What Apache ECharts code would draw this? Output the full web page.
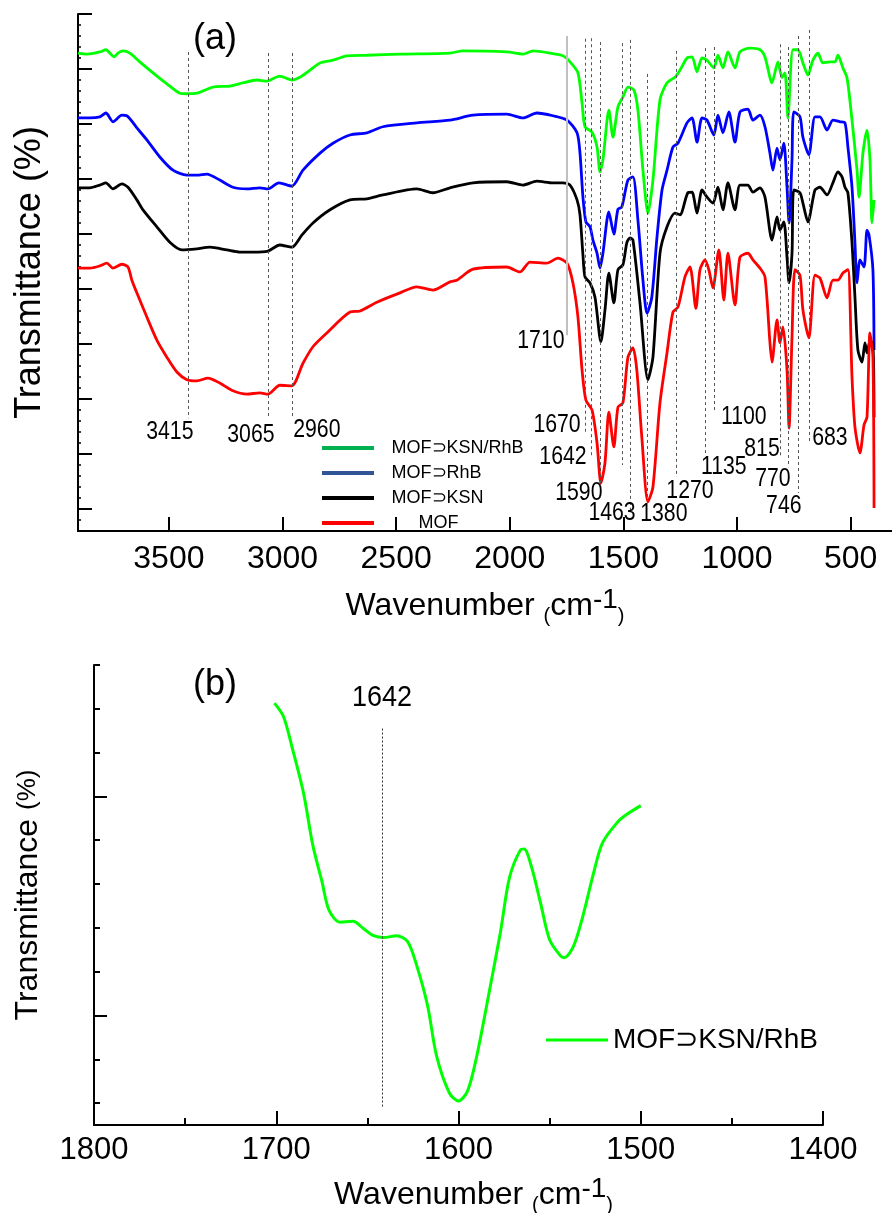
<!DOCTYPE html>
<html><head><meta charset="utf-8">
<script src="https://cdn.jsdelivr.net/npm/echarts@6/dist/echarts.min.js"></script>
<style>html,body{margin:0;padding:0;background:#fff}#c{width:892px;height:1213px}</style>
</head><body><div id="c"></div>
<script>
// ---------------- DATA ----------------
const seriesNames = ['MOF\u2283KSN/RhB', 'MOF\u2283RhB', 'MOF\u2283KSN', 'MOF'];
// Panel (a): [wavenumber cm-1, transmittance (offset, a.u.)]
const greenA = [[3900,86.9],[3861,86.7],[3804,87.1],[3777,87.5],[3760,86.9],[3742,86.2],[3724,86.9],[3702,87.3],[3672,86.9],[3628,85.3],[3570,83.3],[3509,81.3],[3452,79.6],[3421,79.5],[3377,79.6],[3306,80.7],[3232,80.9],[3174,81.5],[3113,82.0],[3069,81.8],[3012,82.7],[2959,82.0],[2924,82.5],[2879,83.8],[2835,85.1],[2778,85.6],[2717,86.4],[2629,86.5],[2483,86.7],[2263,86.9],[2206,87.3],[2013,87.1],[1942,86.7],[1898,87.3],[1823,86.9],[1766,86.4],[1735,85.3],[1700,83.3],[1682,77.8],[1669,73.5],[1638,72.5],[1616,69.8],[1603,65.3],[1590,67.5],[1572,74.7],[1564,76.5],[1546,71.6],[1524,77.1],[1502,78.9],[1480,80.7],[1454,80.2],[1436,76.5],[1414,65.6],[1392,57.8],[1370,63.8],[1339,78.4],[1308,81.5],[1273,82.5],[1251,83.8],[1220,86.0],[1198,86.2],[1176,83.5],[1154,86.0],[1132,85.6],[1102,84.2],[1084,86.5],[1062,84.2],[1040,87.1],[1009,84.2],[987,87.1],[943,87.8],[899,87.5],[877,86.2],[846,81.5],[820,85.3],[802,82.5],[789,83.3],[776,75.1],[754,87.5],[732,87.5],[710,85.1],[688,82.9],[666,85.6],[644,86.9],[622,85.1],[591,85.3],[569,85.3],[556,86.5],[534,84.2],[516,82.4],[494,74.7],[472,65.6],[463,60.7],[446,68.7],[428,72.9],[415,67.5],[406,56.0],[397,60.2]];
const blueA = [[3900,75.1],[3848,75.1],[3804,75.3],[3777,76.0],[3746,74.4],[3707,75.6],[3685,75.5],[3641,73.3],[3597,71.1],[3540,68.0],[3482,65.6],[3421,64.7],[3377,64.7],[3333,64.9],[3276,63.8],[3218,62.5],[3157,62.2],[3100,62.4],[3064,62.2],[3016,63.3],[2959,62.7],[2910,65.6],[2835,68.7],[2778,70.5],[2703,72.0],[2629,72.4],[2558,73.5],[2409,74.2],[2263,74.7],[2162,75.6],[2013,75.8],[1942,75.1],[1881,76.0],[1810,75.5],[1748,74.7],[1704,72.4],[1691,68.7],[1678,60.7],[1665,56.2],[1647,55.3],[1634,52.9],[1616,50.5],[1603,47.8],[1590,50.5],[1564,58.0],[1542,54.0],[1524,58.5],[1507,58.9],[1480,63.8],[1458,64.4],[1436,56.5],[1414,45.6],[1396,39.6],[1375,42.5],[1352,53.5],[1330,62.0],[1308,65.6],[1282,69.8],[1260,70.5],[1220,74.2],[1198,75.1],[1176,70.7],[1154,75.1],[1132,74.7],[1102,72.0],[1084,75.6],[1062,72.4],[1036,76.2],[1009,70.7],[987,76.2],[952,76.7],[930,74.7],[899,75.6],[877,73.5],[855,68.7],[842,65.6],[824,69.6],[811,67.5],[794,70.5],[780,62.5],[771,56.0],[758,67.5],[750,76.2],[723,75.3],[710,71.6],[684,68.4],[657,75.3],[635,75.3],[604,72.9],[578,74.7],[547,74.4],[525,74.2],[512,69.8],[494,62.5],[481,52.4],[472,45.1],[459,49.3],[441,48.0],[428,54.7],[419,53.8],[402,47.5],[397,32.9]];
const blackA = [[3900,62.4],[3848,62.4],[3804,62.9],[3777,63.3],[3746,62.2],[3707,63.1],[3680,62.5],[3641,60.2],[3614,58.4],[3553,55.3],[3496,52.5],[3443,51.1],[3377,51.3],[3320,51.6],[3245,51.1],[3188,50.7],[3130,50.7],[3064,50.9],[3012,52.0],[2959,51.6],[2915,53.8],[2866,56.0],[2791,58.4],[2703,60.2],[2629,60.4],[2558,61.1],[2409,62.2],[2338,61.5],[2263,62.4],[2162,63.3],[2013,63.5],[1942,62.9],[1881,63.6],[1810,63.3],[1766,63.3],[1735,62.9],[1704,60.2],[1691,57.5],[1678,50.2],[1669,46.2],[1647,45.1],[1625,42.5],[1599,34.4],[1581,40.2],[1564,46.9],[1542,41.5],[1524,47.5],[1502,48.4],[1485,52.4],[1471,53.3],[1458,52.9],[1427,41.5],[1392,27.5],[1370,31.6],[1339,50.5],[1308,55.3],[1273,57.8],[1251,57.5],[1216,61.5],[1198,61.6],[1176,57.8],[1154,62.0],[1132,60.7],[1106,59.6],[1084,62.5],[1062,58.4],[1040,63.3],[1009,58.4],[987,62.9],[952,62.9],[930,61.6],[899,62.4],[877,60.7],[846,52.9],[824,57.1],[811,54.7],[794,56.2],[780,49.8],[771,45.1],[758,50.5],[750,62.0],[723,61.5],[710,59.6],[688,56.2],[657,62.0],[635,62.5],[604,61.1],[578,63.3],[556,65.3],[538,64.4],[525,62.5],[512,61.5],[494,52.4],[481,42.5],[468,32.9],[450,30.7],[437,34.2],[428,32.4],[415,34.4],[402,34.2],[397,20.7]];
const redA = [[3900,47.8],[3848,47.8],[3804,48.2],[3773,48.7],[3746,47.8],[3707,48.5],[3680,48.0],[3663,45.6],[3628,42.0],[3597,38.9],[3553,34.7],[3509,31.6],[3465,28.9],[3421,27.5],[3377,27.3],[3328,27.8],[3276,26.9],[3218,25.5],[3157,24.9],[3100,25.1],[3064,24.9],[3012,26.5],[2959,26.4],[2910,30.5],[2866,33.5],[2805,36.0],[2703,39.8],[2659,40.0],[2585,41.6],[2483,43.3],[2409,44.4],[2338,43.8],[2263,45.3],[2233,45.6],[2162,47.6],[2013,48.0],[1955,47.1],[1911,48.9],[1837,48.7],[1788,49.6],[1748,48.7],[1722,45.1],[1700,38.9],[1682,29.3],[1665,23.8],[1638,22.0],[1616,16.0],[1599,8.7],[1581,12.4],[1564,21.6],[1542,15.3],[1524,22.5],[1502,23.3],[1480,31.6],[1458,33.3],[1441,29.3],[1419,17.1],[1392,5.3],[1370,8.0],[1339,23.3],[1308,32.4],[1282,39.8],[1260,40.7],[1229,46.2],[1207,48.0],[1181,40.5],[1163,47.5],[1141,49.3],[1124,47.5],[1106,44.2],[1080,51.1],[1058,42.0],[1040,50.5],[1009,41.1],[987,49.8],[952,50.5],[930,49.3],[899,47.8],[877,46.2],[855,34.2],[846,30.7],[824,38.4],[811,34.2],[798,37.1],[780,29.3],[771,18.7],[758,35.3],[745,47.5],[723,46.5],[710,40.2],[684,35.1],[657,46.5],[635,46.0],[604,42.4],[578,45.6],[556,45.6],[534,46.9],[512,47.5],[494,28.0],[481,18.9],[459,14.2],[441,19.3],[428,20.7],[415,36.0],[402,31.6],[397,4.2]];
// Panel (b): zoom of MOF⊃KSN/RhB
const greenB = [[1701,9.63],[1696,9.32],[1691,8.57],[1685,7.57],[1680,6.40],[1675,5.57],[1671,4.90],[1665,4.63],[1658,4.65],[1652,4.48],[1647,4.33],[1641,4.28],[1634,4.32],[1628,4.19],[1623,3.65],[1617,2.73],[1612,1.57],[1605,0.73],[1600,0.55],[1595,0.78],[1590,1.57],[1583,3.07],[1577,4.40],[1572,5.65],[1566,6.28],[1564,6.30],[1560,5.90],[1555,5.07],[1550,4.23],[1544,3.86],[1542,3.82],[1537,4.07],[1532,4.73],[1526,5.73],[1521,6.44],[1513,6.90],[1508,7.08],[1500,7.29]];
// guide lines in panel (a): [wavenumber, top, bottom]
const guideLinesA = [[3416,87.1,20.5],[3064,86.9,20.7],[2959,86.9,20.7],[1669,89.5,18.0],[1643,89.6,13.5],[1603,88.9,8.7],[1507,88.7,12.0],[1471,89.3,3.8],[1396,83.1,5.3],[1269,87.3,9.8],[1141,87.8,13.8],[1102,88.0,21.6],[811,88.5,13.5],[774,88.0,11.6],[732,90.0,6.9],[684,91.1,16.0]];
const solidLineA = [1748, 90.0, 35.6];
// peak labels (a): [text, wavenumber, y]
const peakLabelsA = [['3415',3496,18.0],['3065',3139,17.5],['2960',2849,18.4],['1710',1863,34.5],['1670',1792,19.3],['1642',1766,13.5],['1590',1696,6.9],['1463',1550,3.3],['1380',1322,3.1],['1270',1207,7.3],['1135',1058,11.6],['1100',970,20.7],['815',890,14.9],['770',842,9.5],['746',794,4.5],['683',591,16.9]];
const guideLineB = [1642, 9.05, 0.375];
const peakLabelB = ['1642', 1642, 9.75];
// ticks
const xTicksA = [500,1000,1500,2000,2500,3000,3500];
const yTicksA = [4,14,24,34,44,54,64,74,84,94];
const yTicksBMajor = [2.5,7.5];
const yTicksBMinor = [0.5,1.5,3.5,4.5,5.5,6.5,8.5,9.5,10.5];

// ---------------- helpers ----------------
const F = "'Liberation Sans', Arial, Helvetica, sans-serif";
const yMinorA = [];
for (let v = 2; v <= 92; v += 2) if (yTicksA.indexOf(v) < 0) yMinorA.push(v);

const colors = ['#00ff00','#0000ff','#000000','#ff0000'];
const legendColors = ['#00b050','#2f5597','#000000','#ff0000'];
const curvesA = [greenA, blueA, blackA, redA];

const chart = echarts.init(document.getElementById('c'), null, {renderer:'canvas'});
const axisLineStyle = {color:'#000', width:2};
const nameRich = {
  a:{fontSize:32, fontFamily:F, color:'#000', lineHeight:40},
  p:{fontSize:20, fontFamily:F, color:'#000', verticalAlign:'bottom', lineHeight:30},
  s:{fontSize:28, fontFamily:F, color:'#000', verticalAlign:'top', lineHeight:16}
};
const wnName = '{a|Wavenumber }{p|(}{a|cm}{s|-1}{p|)}';

const series = [];
curvesA.forEach((d,i)=>{
  series.push({name:seriesNames[i], type:'line', xAxisIndex:0, yAxisIndex:0, data:d, showSymbol:false, smooth:0.25,
    lineStyle:{color:colors[i], width:2.8}, itemStyle:{color:colors[i]}, z:3, silent:true});
});
series.push({name:'guidesA', type:'line', xAxisIndex:0, yAxisIndex:0, data:[], z:1, silent:true,
  markLine:{silent:true, symbol:['none','none'], animation:false, label:{show:false},
    lineStyle:{type:[3,3], color:'#555', width:1},
    data: guideLinesA.map(g=>[{coord:[g[0],g[1]]},{coord:[g[0],g[2]]}]).concat([
      [{coord:[solidLineA[0],solidLineA[1]], lineStyle:{type:'solid', color:'#c0c0c0', width:2}},{coord:[solidLineA[0],solidLineA[2]]}]
    ])}});
// panel b
series.push({name:seriesNames[0], type:'line', xAxisIndex:1, yAxisIndex:2, data:greenB, showSymbol:false, smooth:0.3,
  lineStyle:{color:'#00ff00', width:3}, itemStyle:{color:'#00ff00'}, z:3, silent:true,
  markLine:{silent:true, symbol:['none','none'], animation:false, label:{show:false},
    lineStyle:{type:[2,2], color:'#333', width:1},
    data:[[{coord:[guideLineB[0],guideLineB[1]]},{coord:[guideLineB[0],guideLineB[2]]}]]}});

const baseGraphic = [
  {type:'text', x:215, y:39, style:{text:'(a)', fontSize:36, fontFamily:F, fill:'#000', align:'center', verticalAlign:'middle'}},
  {type:'text', x:215, y:685, style:{text:'(b)', fontSize:36, fontFamily:F, fill:'#000', align:'center', verticalAlign:'middle'}}
];

const option = {
  animation:false,
  backgroundColor:'#fff',
  textStyle:{fontFamily:F},
  grid:[
    {left:78, top:14, width:814, height:517, outerBoundsMode:'none', containLabel:false},
    {left:94, top:665, width:729, height:460, outerBoundsMode:'none', containLabel:false}
  ],
  xAxis:[
    {type:'value', gridIndex:0, inverse:true, min:318, max:3900,
     axisLine:{lineStyle:axisLineStyle}, splitLine:{show:false},
     axisTick:{inside:true, length:14, lineStyle:{color:'#000', width:2}, customValues:xTicksA},
     axisLabel:{customValues:xTicksA, fontSize:32, fontFamily:F, color:'#000', margin:12, formatter:v=>String(v)},
     name:wnName, nameLocation:'middle', nameGap:55, nameMoveOverlap:false,
     nameTextStyle:{rich:nameRich}},
    {type:'value', gridIndex:1, inverse:true, min:1400, max:1800, interval:100,
     axisLine:{lineStyle:axisLineStyle}, splitLine:{show:false},
     axisTick:{inside:true, length:14, lineStyle:{color:'#000', width:2}},
     minorTick:{show:true, splitNumber:2, length:7, lineStyle:{color:'#000', width:2}},
     axisLabel:{fontSize:31, fontFamily:F, color:'#000', margin:10, formatter:v=>String(v), showMinLabel:true, showMaxLabel:true},
     name:wnName, nameLocation:'middle', nameGap:50, nameMoveOverlap:false,
     nameTextStyle:{rich:nameRich, padding:[0,0,0,30]}}
  ],
  yAxis:[
    {type:'value', gridIndex:0, min:0, max:94,
     axisLine:{show:true, lineStyle:axisLineStyle}, splitLine:{show:false},
     axisTick:{inside:true, length:14, lineStyle:{color:'#000', width:2}, customValues:yTicksA},
     axisLabel:{show:false},
     name:'Transmittance (%)', nameLocation:'middle', nameGap:30, nameMoveOverlap:false,
     nameTextStyle:{fontSize:36, fontFamily:F, color:'#000'}},
    {type:'value', gridIndex:0, min:0, max:94, position:'left',
     axisLine:{show:false}, splitLine:{show:false},
     axisTick:{show:true, inside:true, length:3, lineStyle:{color:'#000', width:1.5}, customValues:yMinorA},
     axisLabel:{show:false}},
    {type:'value', gridIndex:1, min:0, max:10.5,
     axisLine:{show:true, lineStyle:axisLineStyle}, splitLine:{show:false},
     axisTick:{inside:true, length:6, lineStyle:{color:'#000', width:2}, customValues:yTicksBMinor},
     axisLabel:{show:false},
     name:'{a|Transmittance }{p|(%)}', nameLocation:'middle', nameGap:50, nameMoveOverlap:false,
     nameTextStyle:{rich:{a:{fontSize:32, fontFamily:F, color:'#000'}, p:{fontSize:26, fontFamily:F, color:'#000'}}}},
    {type:'value', gridIndex:1, min:0, max:10.5, position:'left',
     axisLine:{show:false}, splitLine:{show:false},
     axisTick:{show:true, inside:true, length:13, lineStyle:{color:'#000', width:2}, customValues:yTicksBMajor},
     axisLabel:{show:false}}
  ],
  legend:[
    {orient:'vertical', left:317, top:434, itemWidth:52, itemHeight:4, itemGap:7, icon:'rect',
     data: seriesNames.map((n,i)=>({name:n, itemStyle:{color:legendColors[i]}})),
     formatter: n => (n==='MOF' ? '\u2002\u2002\u2002\u2002\u2009' : '\u2002\u2009') + n,
     textStyle:{fontSize:18, fontFamily:F, color:'#000', lineHeight:18}, selectedMode:false},
    {orient:'vertical', left:541, top:1021, itemWidth:62, itemHeight:3, icon:'rect',
     data:[{name:seriesNames[0], itemStyle:{color:'#00ff00'}}],
     textStyle:{fontSize:28, fontFamily:F, color:'#000', lineHeight:28}, selectedMode:false}
  ],
  graphic: baseGraphic,
  series: series
};
chart.setOption(option);

// peak annotation texts, placed through the axes' own scales
const annot = peakLabelsA.map(p => {
  const pt = chart.convertToPixel({gridIndex:0}, [p[1], p[2]]);
  return {type:'text', x:pt[0], y:pt[1], scaleX:0.85, z:50,
    style:{text:p[0], fontSize:25, fontFamily:F, fill:'#000', align:'center', verticalAlign:'middle'}};
});
const pb = chart.convertToPixel({gridIndex:1}, [peakLabelB[1], peakLabelB[2]]);
annot.push({type:'text', x:pb[0], y:pb[1], scaleX:0.9, z:50,
  style:{text:peakLabelB[0], fontSize:30, fontFamily:F, fill:'#000', align:'center', verticalAlign:'middle'}});
chart.setOption({graphic: baseGraphic.concat(annot)});
</script></body></html>
